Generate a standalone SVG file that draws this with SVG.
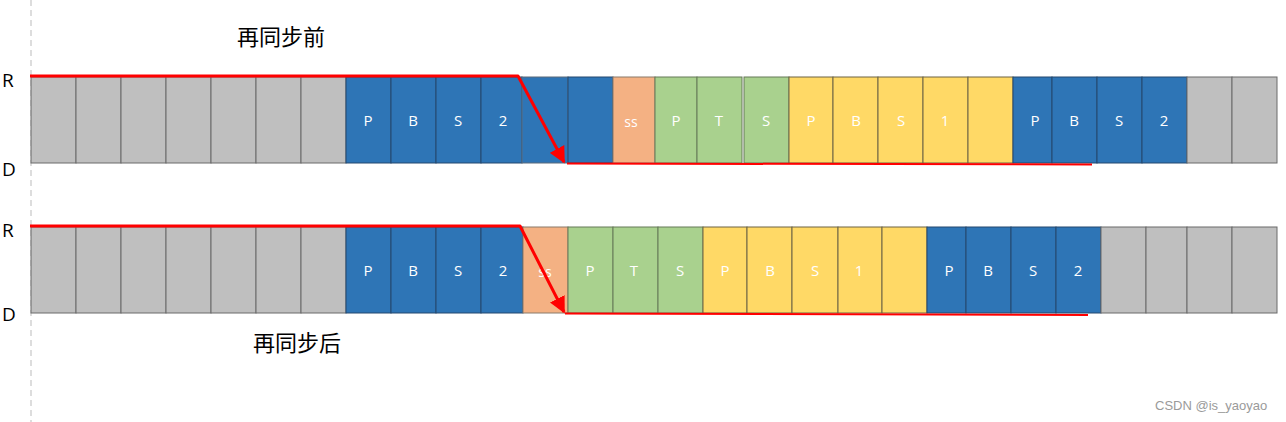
<svg xmlns="http://www.w3.org/2000/svg" width="1286" height="422" viewBox="0 0 1286 422">
<defs>
<style>
.g{fill:#bfbfbf;stroke:#6a6a6a;stroke-width:1}
.b{fill:#2e75b6;stroke:#24496e;stroke-width:1}
.o{fill:#f4b183;stroke:#8a7a6a;stroke-width:1}
.gr{fill:#a9d18e;stroke:#667a58;stroke-width:1}
.y{fill:#ffd966;stroke:#6e6545;stroke-width:1}
.t{font-family:"Open Sans","Liberation Sans",sans-serif;font-size:15px;fill:#ffffff;text-anchor:middle;dominant-baseline:central}
.lab{font-family:"Open Sans","Liberation Sans",sans-serif;font-size:19px;fill:#000000;dominant-baseline:central}
.cn{font-family:"Noto Sans CJK SC",sans-serif;font-size:22px;fill:#000000}
.red{stroke:#ff0000;fill:none;stroke-linejoin:round}
</style>
<marker id="ah" viewBox="0 0 10 10" refX="9" refY="5" markerWidth="5.5" markerHeight="5.5" markerUnits="strokeWidth" orient="auto">
<path d="M0,0 L10,5 L0,10 Z" fill="#ff0000"/>
</marker>
</defs>
<rect width="1286" height="422" fill="#ffffff"/>
<line x1="31" y1="0" x2="31" y2="422" stroke="#bbbbbb" stroke-width="1" stroke-dasharray="6,4"/>

<g id="labels">
<text class="lab" x="2" y="80">R</text>
<text class="lab" x="2" y="169">D</text>
<text class="lab" x="2" y="230">R</text>
<text class="lab" x="2" y="314">D</text>
<text class="cn" x="281" y="45" text-anchor="middle">再同步前</text>
<text class="cn" x="297" y="351" text-anchor="middle">再同步后</text>
</g>

<g id="row-top">
<rect class="g" x="31" y="77" width="45" height="86"/>
<rect class="g" x="76" y="77" width="45" height="86"/>
<rect class="g" x="121" y="77" width="45" height="86"/>
<rect class="g" x="166" y="77" width="45" height="86"/>
<rect class="g" x="211" y="77" width="45" height="86"/>
<rect class="g" x="256" y="77" width="45" height="86"/>
<rect class="g" x="301" y="77" width="45" height="86"/>
<rect class="b" x="346" y="77" width="45" height="86"/>
<rect class="b" x="391" y="77" width="45" height="86"/>
<rect class="b" x="436" y="77" width="45" height="86"/>
<rect class="b" x="481" y="77" width="41" height="86"/>
<rect class="b" x="522" y="77" width="46" height="86" style="stroke:#5a6a7a"/>
<rect class="b" x="568" y="77" width="45" height="86"/>
<rect class="o" x="613" y="77" width="42" height="86"/>
<rect class="gr" x="655" y="77" width="42" height="86"/>
<rect class="gr" x="697" y="77" width="45" height="86"/>
<rect class="gr" x="744" y="77" width="45" height="86"/>
<rect class="y" x="789" y="77" width="44" height="86"/>
<rect class="y" x="833" y="77" width="45" height="86"/>
<rect class="y" x="878" y="77" width="45" height="86"/>
<rect class="y" x="923" y="77" width="45" height="86"/>
<rect class="y" x="968" y="77" width="45" height="86"/>
<rect class="b" x="1013" y="77" width="39" height="86"/>
<rect class="b" x="1052" y="77" width="45" height="86"/>
<rect class="b" x="1097" y="77" width="45" height="86"/>
<rect class="b" x="1142" y="77" width="45" height="86"/>
<rect class="g" x="1187" y="77" width="45" height="86"/>
<rect class="g" x="1232" y="77" width="45" height="86"/>
<text class="t" x="368" y="120">P</text>
<text class="t" x="413" y="120">B</text>
<text class="t" x="458" y="120">S</text>
<text class="t" x="503" y="120">2</text>
<text class="t" x="631" y="121" style="font-size:14px">ss</text>
<text class="t" x="676" y="120">P</text>
<text class="t" x="719" y="120">T</text>
<text class="t" x="766" y="120">S</text>
<text class="t" x="811" y="120">P</text>
<text class="t" x="856" y="120">B</text>
<text class="t" x="901" y="120">S</text>
<text class="t" x="945" y="120">1</text>
<text class="t" x="1035" y="120">P</text>
<text class="t" x="1074" y="120">B</text>
<text class="t" x="1119" y="120">S</text>
<text class="t" x="1164" y="120">2</text>
</g>

<g id="row-bottom">
<rect class="g" x="31" y="227" width="45" height="86"/>
<rect class="g" x="76" y="227" width="45" height="86"/>
<rect class="g" x="121" y="227" width="45" height="86"/>
<rect class="g" x="166" y="227" width="45" height="86"/>
<rect class="g" x="211" y="227" width="45" height="86"/>
<rect class="g" x="256" y="227" width="45" height="86"/>
<rect class="g" x="301" y="227" width="45" height="86"/>
<rect class="b" x="346" y="227" width="45" height="86"/>
<rect class="b" x="391" y="227" width="45" height="86"/>
<rect class="b" x="436" y="227" width="45" height="86"/>
<rect class="b" x="481" y="227" width="42" height="86"/>
<rect class="o" x="523" y="227" width="45" height="86"/>
<rect class="gr" x="568" y="227" width="45" height="86"/>
<rect class="gr" x="613" y="227" width="45" height="86"/>
<rect class="gr" x="658" y="227" width="45" height="86"/>
<rect class="y" x="703" y="227" width="44" height="86"/>
<rect class="y" x="747" y="227" width="45" height="86"/>
<rect class="y" x="792" y="227" width="46" height="86"/>
<rect class="y" x="838" y="227" width="44" height="86"/>
<rect class="y" x="882" y="227" width="45" height="86"/>
<rect class="b" x="927" y="227" width="39" height="86"/>
<rect class="b" x="966" y="227" width="45" height="86"/>
<rect class="b" x="1011" y="227" width="45" height="86"/>
<rect class="b" x="1056" y="227" width="45" height="86"/>
<rect class="g" x="1101" y="227" width="45" height="86"/>
<rect class="g" x="1146" y="227" width="41" height="86"/>
<rect class="g" x="1187" y="227" width="45" height="86"/>
<rect class="g" x="1232" y="227" width="45" height="86"/>
<text class="t" x="368" y="270">P</text>
<text class="t" x="413" y="270">B</text>
<text class="t" x="458" y="270">S</text>
<text class="t" x="503" y="270">2</text>
<text class="t" x="545" y="271" style="font-size:14px">ss</text>
<text class="t" x="590" y="270">P</text>
<text class="t" x="634" y="270">T</text>
<text class="t" x="680" y="270">S</text>
<text class="t" x="725" y="270">P</text>
<text class="t" x="770" y="270">B</text>
<text class="t" x="815" y="270">S</text>
<text class="t" x="859" y="270">1</text>
<text class="t" x="949" y="270">P</text>
<text class="t" x="988" y="270">B</text>
<text class="t" x="1033" y="270">S</text>
<text class="t" x="1078" y="270">2</text>
</g>

<g id="connectors">
<polyline class="red" points="30,76 518,76 564,162" stroke-width="3" marker-end="url(#ah)"/>
<line class="red" x1="567" y1="163.5" x2="1092" y2="164.5" stroke-width="2"/>
<polyline class="red" points="30,226 520,226 564,312" stroke-width="3" marker-end="url(#ah)"/>
<line class="red" x1="565" y1="313.5" x2="1088" y2="315" stroke-width="2"/>
</g>

<text x="1155" y="410" style="font-family:'Liberation Sans',sans-serif;font-size:13px;fill:#9a9a9a">CSDN @is_yaoyao</text>
</svg>
